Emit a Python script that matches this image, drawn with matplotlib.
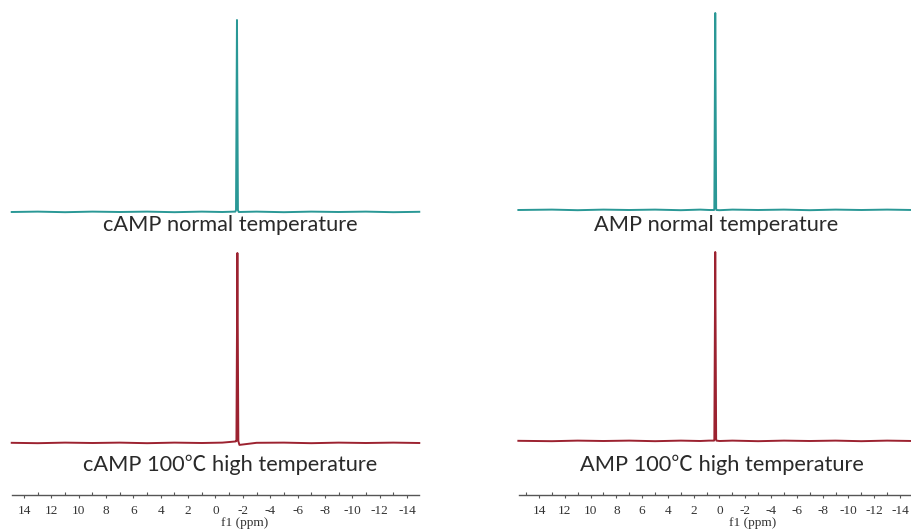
import matplotlib
matplotlib.use("Agg")
import matplotlib.pyplot as plt
from matplotlib.ticker import MultipleLocator

# 31P spectra, chemical shift (ppm) and normalised intensity
camp_rt_ppm = [14.9, 13.0, 11.0, 9.0, 7.0, 5.0, 3.0, 1.0, -0.5, -1.45, -1.50, -1.57, -1.64, -1.7, -3.0, -5.0, -7.0, -9.0, -11.0, -13.0, -14.9]
camp_rt_int = [0.000, 0.002, -0.001, 0.002, 0.000, 0.002, -0.001, 0.002, 0.000, 0.002, 0.010, 1.000, 0.010, 0.000, 0.002, -0.001, 0.002, 0.000, 0.002, -0.001, 0.001]

camp_ht_ppm = [14.9, 13.0, 11.0, 9.0, 7.0, 5.0, 3.0, 1.0, -0.5, -1.45, -1.53, -1.60, -1.67, -1.75, -3.0, -5.0, -7.0, -9.0, -11.0, -13.0, -14.9]
camp_ht_int = [0.001, -0.001, 0.002, 0.000, 0.002, -0.001, 0.002, 0.000, 0.002, 0.008, 0.010, 1.000, 0.010, -0.010, 0.001, 0.002, -0.001, 0.002, 0.000, 0.002, 0.000]

amp_rt_ppm = [15.6, 13.0, 11.0, 9.0, 7.0, 5.0, 3.0, 1.5, 0.8, 0.42, 0.40, 0.33, 0.26, 0.24, 0.0, -1.0, -3.0, -5.0, -7.0, -9.0, -11.0, -13.0, -15.0]
amp_rt_int = [0.000, 0.002, -0.001, 0.002, 0.000, 0.002, -0.001, 0.002, 0.000, 0.000, 0.008, 1.000, 0.008, 0.000, -0.001, 0.002, 0.000, 0.002, -0.001, 0.002, 0.000, 0.002, 0.000]

amp_ht_ppm = [15.6, 13.0, 11.0, 9.0, 7.0, 5.0, 3.0, 1.5, 0.8, 0.42, 0.40, 0.33, 0.26, 0.24, 0.0, -1.0, -3.0, -5.0, -7.0, -9.0, -11.0, -13.0, -15.0]
amp_ht_int = [0.001, -0.001, 0.002, 0.000, 0.002, -0.001, 0.002, 0.000, 0.002, 0.002, 0.010, 1.000, 0.010, 0.002, 0.000, 0.002, -0.001, 0.002, 0.000, 0.002, -0.001, 0.002, 0.000]

labels = ["cAMP normal temperature", "AMP normal temperature",
          "cAMP 100\u2103 high temperature", "AMP 100\u2103 high temperature"]

teal = "#2a9896"
wine = "#9c2230"
W, H = 912, 532

fig = plt.figure(figsize=(W / 100, H / 100), dpi=100)


def box(x0, x1, y_top, y_bot):
    # pixel box -> figure fraction rect
    return [x0 / W, 1 - y_bot / H, (x1 - x0) / W, (y_bot - y_top) / H]


def spectrum(rect, xlim, ppm, inten, color):
    ax = fig.add_axes(rect)
    ax.plot(ppm, inten, color=color, lw=1.4, clip_on=False)
    ax.set_xlim(*xlim)
    ax.set_ylim(0, 1)
    ax.axis("off")
    return ax


def scale(rect, xlim, label_x):
    ax = fig.add_axes(rect)
    ax.set_xlim(*xlim)
    ax.set_yticks([])
    for s in ["top", "left", "right"]:
        ax.spines[s].set_visible(False)
    ax.spines["bottom"].set_color("#555555")
    ax.spines["bottom"].set_linewidth(1.0)
    ax.xaxis.set_major_locator(MultipleLocator(2))
    ax.xaxis.set_minor_locator(MultipleLocator(1))
    ax.tick_params(axis="x", which="major", direction="out", length=2.5, width=0.8,
                   color="#555555", pad=5, labelsize=9.5, labelcolor="#333333")
    ax.tick_params(axis="x", which="minor", direction="in", length=2.5, width=0.8, color="#555555")
    ax.xaxis.set_major_formatter(lambda v, p: "%d" % round(v))
    for t in ax.get_xticklabels():
        t.set_fontfamily("Liberation Serif")
    ax.patch.set_alpha(0)
    fig.text(label_x / W, 1 - 523 / H, "f1 (ppm)", ha="center", va="center",
             fontsize=9.5, family="Liberation Serif", color="#333333")
    return ax


left_lim = (14.88, -14.88)
right_lim = (15.55, -14.93)

spectrum(box(12, 419, 20, 212), left_lim, camp_rt_ppm, camp_rt_int, teal)
spectrum(box(12, 419, 253, 443), left_lim, camp_ht_ppm, camp_ht_int, wine)
spectrum(box(519, 912, 13, 210), right_lim, amp_rt_ppm, amp_rt_int, teal)
spectrum(box(519, 912, 252, 441), right_lim, amp_ht_ppm, amp_ht_int, wine)

scale(box(12, 419, 494, 495), left_lim, 245)
scale(box(519, 912, 494, 495), right_lim, 753)

fam = ["Lato", "Noto Sans CJK SC", "DejaVu Sans"]
for txt, (x, y) in zip(labels, [(230, 225), (716, 225), (230, 465), (722, 465)]):
    fig.text(x / W, 1 - y / H, txt, ha="center", va="center", fontsize=15.7,
             family=fam, color="#2a2a2a")

fig.savefig("out.png", dpi=100)
